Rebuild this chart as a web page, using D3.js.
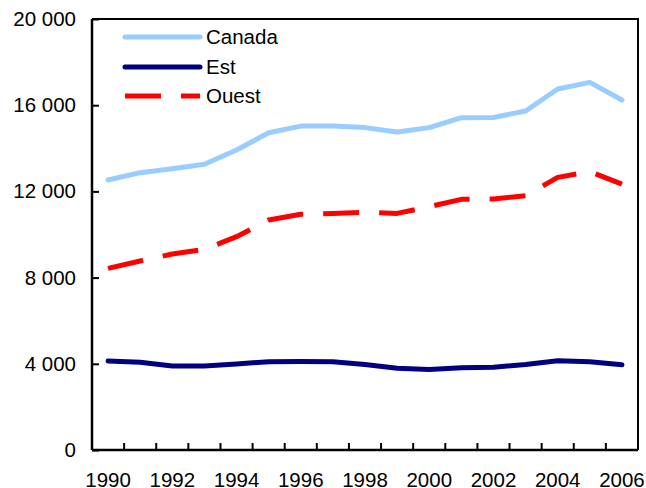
<!DOCTYPE html>
<html>
<head>
<meta charset="utf-8">
<script src="https://cdn.jsdelivr.net/npm/d3@7"></script>
<style>
  html, body { margin: 0; padding: 0; background: #fff; }
  svg { display: block; }
  text { font-family: Arial, "Liberation Sans", sans-serif; font-size: 20.5px; fill: #000; }
</style>
</head>
<body>
<svg id="chart" width="646" height="488"></svg>
<script>
const years = [1990,1991,1992,1993,1994,1995,1996,1997,1998,1999,2000,2001,2002,2003,2004,2005,2006];
const canada = [12530,12870,13050,13260,13920,14720,15030,15030,14960,14760,14960,15420,15430,15730,16750,17060,16240];
const est    = [4130,4070,3900,3900,3990,4100,4110,4100,3970,3790,3740,3820,3840,3970,4140,4100,3960];
const ouest  = [8430,8770,9095,9310,9900,10670,10940,10980,11030,10980,11290,11630,11650,11800,12650,12920,12340];
const yTicks = [0,4000,8000,12000,16000,20000];
const xLabels = [1990,1992,1994,1996,1998,2000,2002,2004,2006];
const seriesNames = ["Canada","Est","Ouest"];

const svg = d3.select("#chart");
const pLeft = 92, pRight = 638, pTop = 19, pBottom = 450;
const fs = "20.5px";

const x = d3.scaleBand().domain(years).range([pLeft, pRight]).padding(0);
const cx = d => x(d) + x.bandwidth() / 2;
const y = d3.scaleLinear().domain([0, 20000]).range([pBottom, pTop]);

const loc = d3.formatLocale({decimal: ",", thousands: " ", grouping: [3], currency: ["", ""]});
const fmt = loc.format(",");

// frame (top and right)
svg.append("path")
  .attr("d", `M${pLeft},${pTop}H${pRight}V${pBottom}`)
  .attr("fill", "none").attr("stroke", "#000").attr("stroke-width", 2);

// series
const series = [
  {name: "Canada", values: canada, color: "#99CCFF", dash: null, cap: "round"},
  {name: "Est", values: est, color: "#000080", dash: null, cap: "round"},
  {name: "Ouest", values: ouest, color: "#FF0000", dash: "36,20", cap: "butt"}
];
const line = d3.line().x((d, i) => cx(years[i])).y(d => y(d));
series.forEach(s => {
  svg.append("path")
    .datum(s.values)
    .attr("d", line)
    .attr("fill", "none")
    .attr("stroke", s.color)
    .attr("stroke-width", 5)
    .attr("stroke-linejoin", "round")
    .attr("stroke-linecap", s.cap)
    .attr("stroke-dasharray", s.dash);
});

// y axis
const yAxis = svg.append("g").attr("transform", `translate(${pLeft},0)`)
  .call(d3.axisLeft(y).tickValues(yTicks).tickFormat(fmt).tickSize(-7).tickPadding(16));
yAxis.select(".domain").attr("stroke-width", 2.5).attr("d", `M0,${pTop}V${pBottom}`);
yAxis.selectAll(".tick line").attr("stroke-width", 2);
yAxis.selectAll("text").style("font-size", fs).attr("fill", "#000");

// x axis labels
const xAxis = svg.append("g").attr("transform", `translate(0,${pBottom})`)
  .call(d3.axisBottom(x).tickValues(xLabels).tickSize(0).tickPadding(22));
xAxis.select(".domain").attr("stroke-width", 2.5).attr("d", `M${pLeft},0H${pRight}`);
xAxis.selectAll("text").style("font-size", fs).attr("fill", "#000");

// x tick marks at category boundaries
svg.append("g").selectAll("line")
  .data(years.slice(1))
  .join("line")
  .attr("x1", d => x(d)).attr("x2", d => x(d))
  .attr("y1", pBottom).attr("y2", pBottom - 7)
  .attr("stroke", "#000").attr("stroke-width", 2);

// legend
const legY = [37, 67, 96];
const leg = svg.append("g");
series.forEach((s, i) => {
  leg.append("line")
    .attr("x1", 125).attr("x2", 200)
    .attr("y1", legY[i]).attr("y2", legY[i])
    .attr("stroke", s.color).attr("stroke-width", 5)
    .attr("stroke-linecap", s.cap)
    .attr("stroke-dasharray", s.dash);
  leg.append("text")
    .attr("x", 206).attr("y", legY[i]).attr("dy", "0.35em")
    .style("font-size", fs)
    .text(seriesNames[i]);
});
</script>
</body>
</html>
